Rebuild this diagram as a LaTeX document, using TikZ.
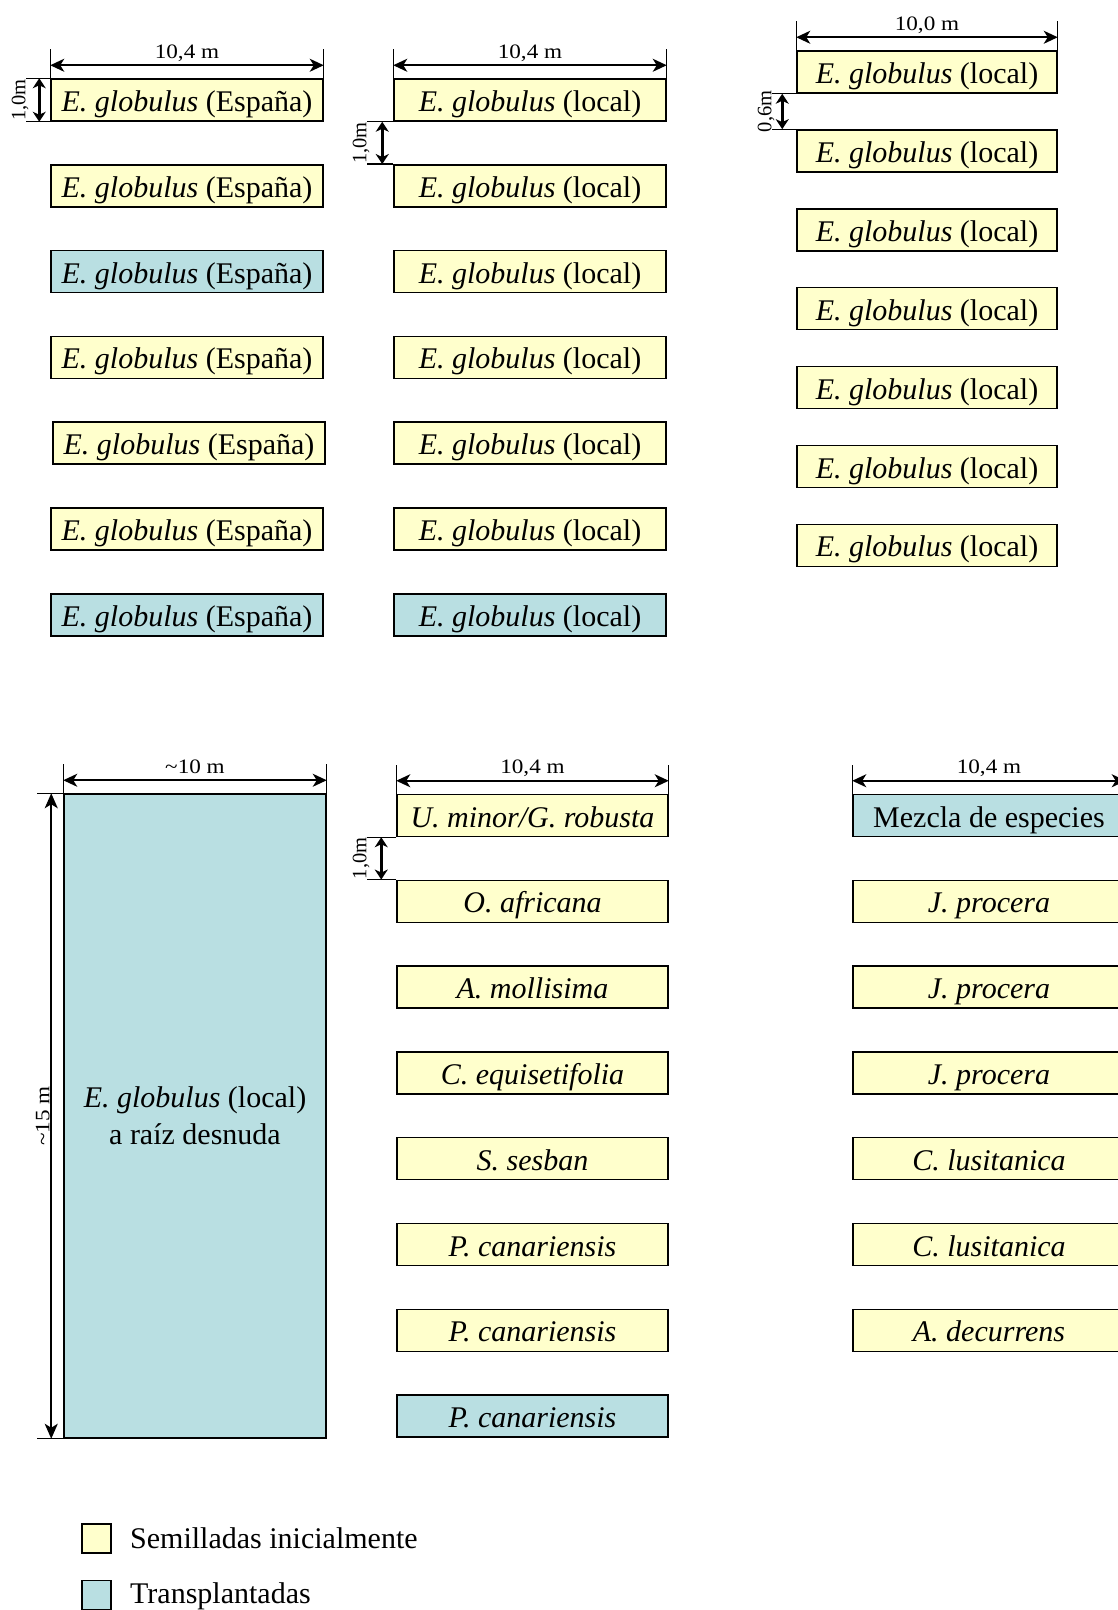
\documentclass[tikz,border=0pt]{standalone}
\usepackage{fontspec}
\setmainfont{Liberation Serif}
\usetikzlibrary{arrows.meta,calc}
\definecolor{seedfill}{HTML}{FFFFCC}
\definecolor{plantfill}{HTML}{B9DFE2}

% slightly widened lettering for the dimension labels
\newcommand{\dimtext}[1]{\scalebox{1.13}[1]{#1}}

% width mark above the first plot of a column: #1 plot, #2 label
\newcommand{\spanmark}[2]{%
  \draw[extline] (#1.north west) -- ([yshift=29pt]#1.north west);
  \draw[extline] (#1.north east) -- ([yshift=29pt]#1.north east);
  \coordinate (#1-dl) at ([yshift=13pt]#1.north west);
  \coordinate (#1-dr) at ([yshift=13pt]#1.north east);
  \draw[widthdim] (#1-dl) -- (#1-dr);
  \node[dimlabel] at ([yshift=20pt]#1.north) {\dimtext{#2}};
}

% vertical mark on the left: #1 upper corner, #2 lower corner,
% #3 extension length, #4 arrow offset, #5 label
\newcommand{\gapmark}[5]{%
  \draw[extline] (#1) -- ++(-#3,0);
  \draw[extline] (#2) -- ++(-#3,0);
  \draw[gapdim] ([xshift=-#4 pt]#1) -- ([xshift=-#4 pt]#2);
  \node[dimlabel, rotate=90] at ($(#1)!0.5!(#2) + ({-(#3+1)},0)$) {#5};
}

\begin{document}
\begin{tikzpicture}[x=1pt, y=-1pt,
  plotbox/.style={draw=black, line width=1.5pt, minimum height=42pt, inner sep=0pt,
    font=\fontsize{30}{37}\selectfont},
  rowtext/.style={text height=23pt, text depth=0pt},
  seedplot/.style={plotbox, rowtext, fill=seedfill},
  plantplot/.style={plotbox, rowtext, fill=plantfill},
  blockplot/.style={plotbox, fill=plantfill},
  extline/.style={line width=1.3pt},
  widthdim/.style={line width=1.8pt,
    {Stealth[length=14pt,width=13pt,inset=4pt]}-{Stealth[length=14pt,width=13pt,inset=4pt]}},
  gapdim/.style={line width=2.6pt,
    {Stealth[length=10pt,width=13pt,inset=3pt]}-{Stealth[length=10pt,width=13pt,inset=3pt]}},
  lengthdim/.style={line width=1.8pt,
    {Stealth[length=15pt,width=13pt,inset=4pt]}-{Stealth[length=15pt,width=13pt,inset=4pt]}},
  dimlabel/.style={font=\fontsize{20.5}{24}\selectfont, inner sep=0pt, anchor=base},
  keytext/.style={font=\fontsize{30}{35}\selectfont, inner sep=0pt, anchor=base west},
]
\useasboundingbox (0,0) rectangle (1118,1610);
\clip (0,0) rectangle (1118,1610);

% ---------- upper block: E. globulus plots ----------
% column 1, seed from Spain
\foreach \i/\xx/\yy/\st in {1/187/100/seedplot, 2/187/185.8/seedplot, 3/187/271.6/plantplot,
    4/187/357.4/seedplot, 5/189/443.2/seedplot, 6/187/529/seedplot, 7/187/614.8/plantplot}
  \node[\st, minimum width=272pt] (a\i) at (\xx,\yy) {\textit{E. globulus} (España)};

% column 2, local seed
\foreach \i/\yy/\st in {1/100/seedplot, 2/185.8/seedplot, 3/271.6/seedplot,
    4/357.4/seedplot, 5/443.2/seedplot, 6/529/seedplot, 7/614.8/plantplot}
  \node[\st, minimum width=272pt] (b\i) at (530,\yy) {\textit{E. globulus} (local)};

% column 3, local seed, narrower spacing
\foreach \i/\yy in {1/72, 2/150.9, 3/229.8, 4/308.7, 5/387.6, 6/466.5, 7/545.4}
  \node[seedplot, minimum width=260pt] (c\i) at (927,\yy) {\textit{E. globulus} (local)};

\spanmark{a1}{10,4 m}
\spanmark{b1}{10,4 m}
\spanmark{c1}{10,0 m}
\gapmark{a1.north west}{a1.south west}{24}{11}{1,0m}
\gapmark{b1.south west}{b2.north west}{26}{11}{1,0m}
\gapmark{c1.south west}{c2.north west}{24}{14}{0,6m}

% ---------- lower block ----------
% bare-root block
\node[blockplot, minimum width=262pt, minimum height=644pt, align=center] (big) at (195,1116)
  {\textit{E. globulus} (local)\\a raíz desnuda};
\spanmark{big}{\textasciitilde 10 m}
\draw[extline] (big.north west) -- ++(-26,0);
\draw[extline] (big.south west) -- ++(-26,0);
\draw[lengthdim] ([xshift=-12pt]big.north west) -- ([xshift=-12pt]big.south west);
\node[dimlabel, rotate=90] at ($(big.west)+(-14,0)$) {\dimtext{\textasciitilde 15 m}};

% species rows
\node[seedplot,  minimum width=271pt] (d1) at (532.5,815.5)  {\textit{U. minor/G. robusta}};
\node[seedplot,  minimum width=271pt] (d2) at (532.5,901.3)  {\textit{O. africana}};
\node[seedplot,  minimum width=271pt] (d3) at (532.5,987.1)  {\textit{A. mollisima}};
\node[seedplot,  minimum width=271pt] (d4) at (532.5,1072.9) {\textit{C. equisetifolia}};
\node[seedplot,  minimum width=271pt] (d5) at (532.5,1158.7) {\textit{S. sesban}};
\node[seedplot,  minimum width=271pt] (d6) at (532.5,1244.5) {\textit{P. canariensis}};
\node[seedplot,  minimum width=271pt] (d7) at (532.5,1330.3) {\textit{P. canariensis}};
\node[plantplot, minimum width=271pt] (d8) at (532.5,1416.1) {\textit{P. canariensis}};
\spanmark{d1}{10,4 m}
\gapmark{d1.south west}{d2.north west}{29}{15}{1,0m}

% mixed rows
\node[plantplot, minimum width=272pt] (e1) at (989,815.5)  {Mezcla de especies};
\node[seedplot,  minimum width=272pt] (e2) at (989,901.3)  {\textit{J. procera}};
\node[seedplot,  minimum width=272pt] (e3) at (989,987.1)  {\textit{J. procera}};
\node[seedplot,  minimum width=272pt] (e4) at (989,1072.9) {\textit{J. procera}};
\node[seedplot,  minimum width=272pt] (e5) at (989,1158.7) {\textit{C. lusitanica}};
\node[seedplot,  minimum width=272pt] (e6) at (989,1244.5) {\textit{C. lusitanica}};
\node[seedplot,  minimum width=272pt] (e7) at (989,1330.3) {\textit{A. decurrens}};
\spanmark{e1}{10,4 m}

% ---------- key ----------
\node[seedplot,  minimum width=29pt, minimum height=29pt] (key1) at (96.5,1538.5) {};
\node[plantplot, minimum width=29pt, minimum height=29pt] (key2) at (96.5,1595) {};
\node[keytext] (key1t) at (130,1548) {Semilladas inicialmente};
\node[keytext] (key2t) at (130,1603) {Transplantadas};
\end{tikzpicture}
\end{document}
